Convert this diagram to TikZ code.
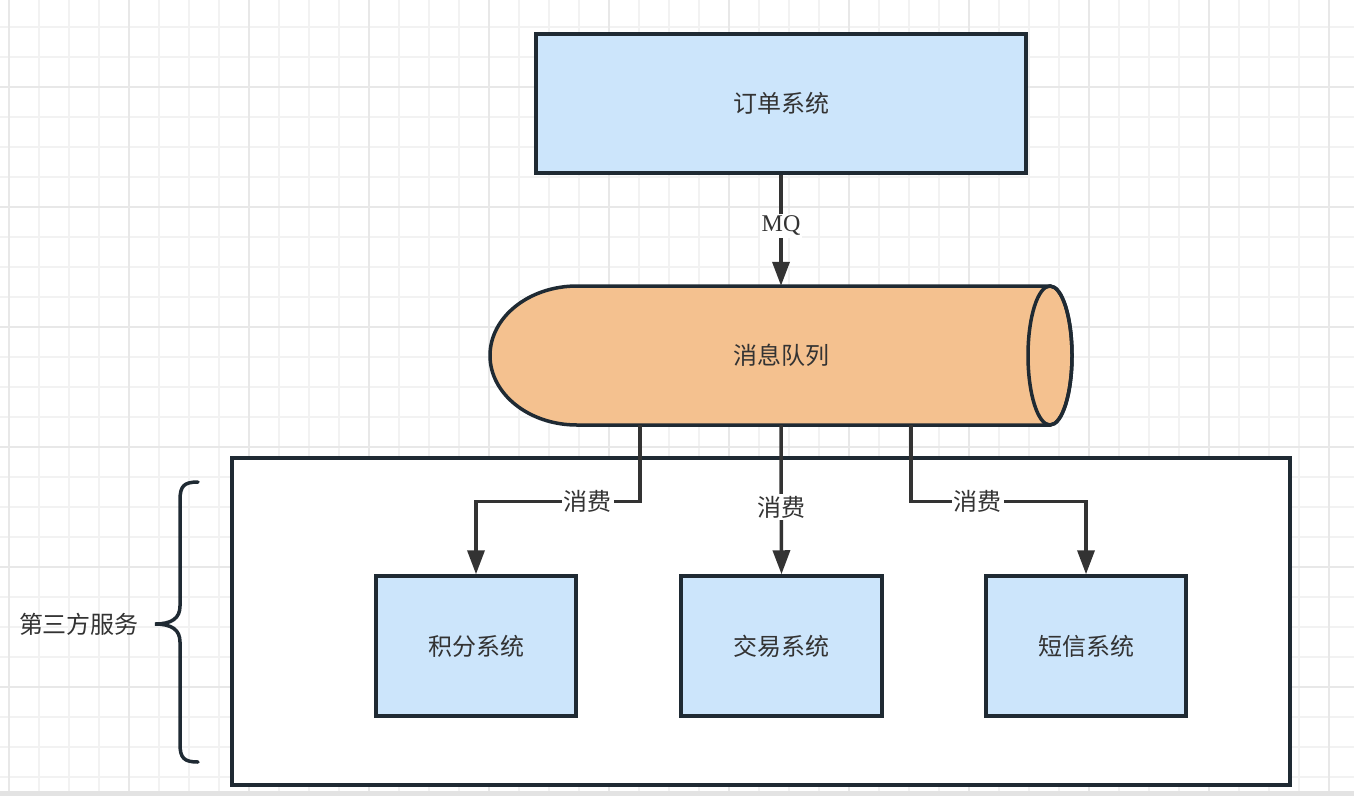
\documentclass[tikz,border=0pt]{standalone}
\usepackage{fontspec}
\setmainfont{Liberation Serif}
\newfontfamily\cjk{Noto Sans CJK SC}
\usetikzlibrary{arrows.meta,calc}
\definecolor{strokec}{HTML}{1F2A33}
\definecolor{boxfill}{HTML}{CCE5FB}
\definecolor{cylfill}{HTML}{F4C18F}
\definecolor{txtc}{HTML}{333333}
\definecolor{gridminor}{HTML}{F2F2F2}
\definecolor{gridmajor}{HTML}{E8E8E8}
\tikzset{
  sysbox/.style={draw=strokec, fill=boxfill, line width=3.5pt, inner sep=0pt, font=\cjk\fontsize{24}{28}\selectfont, text=txtc},
  container/.style={draw=strokec, fill=white, line width=3.5pt, inner sep=0pt},
  conn/.style={draw=txtc, line width=3.5pt, -{Triangle[length=24pt,width=17pt]}},
  lbl/.style={fill=white, inner sep=2pt, font=\cjk\fontsize{24}{28}\selectfont, text=txtc},
  mqlbl/.style={fill=white, inner sep=2pt, font=\fontsize{24}{28}\selectfont, text=txtc},
  plain/.style={font=\cjk\fontsize{24}{28}\selectfont, text=txtc, inner sep=0pt},
}
\begin{document}
\begin{tikzpicture}[x=1pt,y=-1pt]
\useasboundingbox (0,0) rectangle (1354,796);
\fill[white] (0,0) rectangle (1354,796);
% grid
\foreach \i in {0,...,45} {\draw[gridminor, line width=2pt] ({9+30*\i},0) -- ({9+30*\i},796);}
\foreach \i in {0,...,26} {\draw[gridminor, line width=2pt] (0,{27+30*\i}) -- (1354,{27+30*\i});}
\foreach \i in {0,...,11} {\draw[gridmajor, line width=2pt] ({9+120*\i},0) -- ({9+120*\i},796);}
\foreach \i in {0,...,6} {\draw[gridmajor, line width=2pt] (0,{87+120*\i}) -- (1354,{87+120*\i});}
\fill[gray!22] (0,791) rectangle (1354,796);

% order system
\node[sysbox, minimum width=490pt, minimum height=139pt] (order) at (781,103.5) {订单系统};

% message queue cylinder
\filldraw[draw=strokec, fill=cylfill, line width=3.5pt]
  (577,286) -- (1050,286) arc[start angle=90, end angle=-90, x radius=22pt, y radius=69.5pt]
  -- (577,425) arc[start angle=270, end angle=90, x radius=87pt, y radius=69.5pt] -- cycle;
\draw[draw=strokec, line width=3.5pt] (1050,355.5) ellipse[x radius=22pt, y radius=69.5pt];
\node[plain, minimum width=582pt, minimum height=139pt] (queue) at (781,355.5) {消息队列};

\draw[conn] (order.south) -- node[mqlbl, pos=0.46] {MQ} (queue.north);

% third-party container
\node[container, minimum width=1058pt, minimum height=327pt] (svc) at (761,621.5) {};
\node[sysbox, minimum width=200pt, minimum height=140pt] (jifen) at (476,646) {积分系统};
\node[sysbox, minimum width=201pt, minimum height=140pt] (jiaoyi) at (781.5,646) {交易系统};
\node[sysbox, minimum width=200pt, minimum height=140pt] (duanxin) at (1086,646) {短信系统};

\draw[conn] ([xshift=-141pt]queue.south) |- node[lbl, pos=0.66] {消费} ([yshift=73pt]jifen.north) -- (jifen.north);
\draw[conn] (queue.south) -- node[lbl, pos=0.55] {消费} (jiaoyi.north);
\draw[conn] ([xshift=130pt]queue.south) |- node[lbl, pos=0.69] {消费} ([yshift=73pt]duanxin.north) -- (duanxin.north);

% brace and label
\draw[strokec, line width=3.5pt, line cap=round]
  (198,482) .. controls (184,482) and (180,486) .. (180,500) -- (180,606)
  .. controls (180,618) and (172,624) .. (155,624)
  .. controls (172,624) and (180,630) .. (180,642) -- (180,744)
  .. controls (180,758) and (184,762) .. (198,762);
\node[plain] (third) at (79,624) {第三方服务};
\end{tikzpicture}
\end{document}
